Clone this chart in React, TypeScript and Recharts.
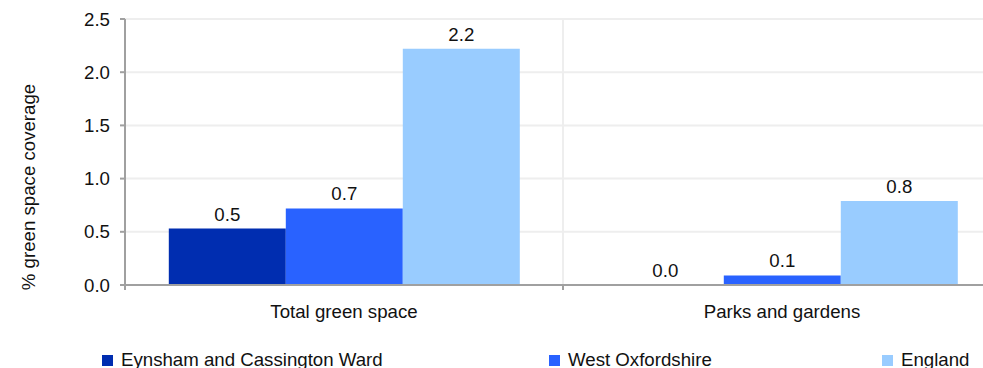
import React from "react";
import { BarChart, Bar, XAxis, YAxis, CartesianGrid, LabelList, Rectangle } from "recharts";

const categories = ["Total green space", "Parks and gardens"];
const eynshamValues = [0.53, 0.0];
const westOxfordshireValues = [0.72, 0.09];
const englandValues = [2.22, 0.79];
const yTicks = [0, 0.5, 1, 1.5, 2, 2.5];
const seriesNames = ["Eynsham and Cassington Ward", "West Oxfordshire", "England"];
const seriesKeys = ["eynsham", "westOxfordshire", "england"];
const seriesColors = ["#002db0", "#2962ff", "#99ccff"];
const yAxisLabel = "% green space coverage";

const data = categories.map((c, i) => ({
  category: c,
  eynsham: eynshamValues[i],
  westOxfordshire: westOxfordshireValues[i],
  england: englandValues[i],
}));

const FONT = "'Liberation Sans', Arial, sans-serif";
const FS = 18.67;
const TEXT = "#111";
const AXIS = "#a0a0a0";
const GRID = "#eeeeee";

const XTick = (props: any) => {
  const { x, y, payload } = props;
  const half = payload && payload.offset ? payload.offset : 219;
  return (
    <g>
      <line x1={x - half} x2={x - half} y1={y} y2={y + 5} stroke={AXIS} strokeWidth={2} />
      <line x1={x + half} x2={x + half} y1={y} y2={y + 5} stroke={AXIS} strokeWidth={2} />
      <text x={x} y={y + 33} textAnchor="middle" fontSize={FS} fill={TEXT} fontFamily={FONT}>
        {payload.value}
      </text>
    </g>
  );
};

const BarValueLabel = (props: any) => {
  const { x, y, width, height, value } = props;
  if (x == null || y == null || width == null) return null;
  const top = Number(value) === 0 ? Number(y) + Number(height || 0) : Number(y);
  return (
    <text x={Number(x) + Number(width) / 2} y={top - 8} textAnchor="middle" fontSize={FS} fill={TEXT} fontFamily={FONT}>
      {Number(value).toFixed(1)}
    </text>
  );
};

const makeShape = (key: string) => (props: any) => {
  if (props.payload && Number(props.payload[key]) === 0) return <g />;
  return <Rectangle {...props} />;
};

const legendX = [102, 549, 882];

export default function App() {
  return (
    <div
      style={{
        position: "fixed",
        left: 0,
        top: 0,
        width: 983,
        height: 368,
        overflow: "hidden",
        background: "#fff",
        fontFamily: FONT,
      }}
    >
      <BarChart
        width={1010}
        height={325}
        data={data}
        margin={{ top: 19, right: 9, left: 0, bottom: 0 }}
        barCategoryGap="10%"
        barGap={0}
      >
        <CartesianGrid
          stroke={GRID}
          strokeWidth={2}
          vertical={true}
          verticalCoordinatesGenerator={({ offset }: any) => [offset.left + offset.width / 2, offset.left + offset.width]}
        />
        <XAxis
          dataKey="category"
          height={40}
          tickSize={0}
          tickMargin={0}
          tickLine={false}
          axisLine={{ stroke: AXIS, strokeWidth: 2 }}
          tick={<XTick />}
          interval={0}
        />
        <YAxis
          width={125}
          domain={[0, 2.5]}
          ticks={yTicks}
          tickFormatter={(v: number) => v.toFixed(1)}
          tickSize={5}
          tickMargin={10}
          tickLine={{ stroke: AXIS, strokeWidth: 2 }}
          axisLine={{ stroke: AXIS, strokeWidth: 2 }}
          tick={{ fill: TEXT, fontSize: FS, fontFamily: FONT }}
        />
        {seriesKeys.map((k, i) => (
          <Bar
            key={k}
            dataKey={k}
            name={seriesNames[i]}
            fill={seriesColors[i]}
            minPointSize={1}
            shape={makeShape(k)}
            isAnimationActive={false}
          >
            <LabelList dataKey={k} content={<BarValueLabel />} />
          </Bar>
        ))}
      </BarChart>
      <svg width={60} height={368} style={{ position: "absolute", left: 0, top: 0 }}>
        <text
          x={28}
          y={187}
          transform="rotate(-90 28 187)"
          textAnchor="middle"
          dominantBaseline="central"
          fontSize={FS}
          fill={TEXT}
          fontFamily={FONT}
        >
          {yAxisLabel}
        </text>
      </svg>
      {seriesNames.map((n, i) => (
        <div
          key={n}
          style={{
            position: "absolute",
            left: legendX[i],
            top: 349,
            display: "flex",
            alignItems: "center",
            whiteSpace: "nowrap",
            fontSize: FS,
            color: TEXT,
            lineHeight: "22px",
          }}
        >
          <span style={{ display: "inline-block", width: 11, height: 11, background: seriesColors[i], marginRight: 8 }} />
          <span>{n}</span>
        </div>
      ))}
    </div>
  );
}
